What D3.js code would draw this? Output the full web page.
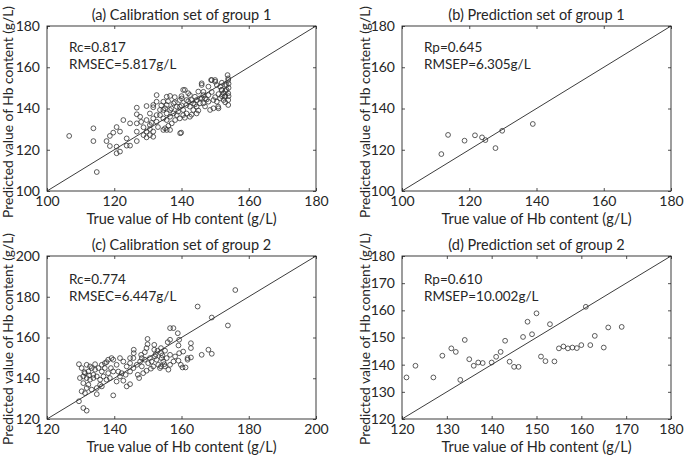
<!DOCTYPE html>
<html><head><meta charset="utf-8">
<script src="https://cdn.jsdelivr.net/npm/d3@7"></script>
<style>
body{margin:0;background:#fff}
text{font-family:Lato,"Open Sans",sans-serif;fill:#262626}
</style>
</head><body>
<svg id="chart" width="685" height="460"></svg>
<script>
// ---------- data ----------
const aTrue=[106.6,113.8,113.8,114.8,117.7,118.7,119.7,120.7,121.7,118.7,120.7,120.7,121.7,122.7,123.7,123.7,124.7,124.7,126.7,126.7,126.7,126.7,126.7,127.7,128.7,128.7,129.6,129.6,129.6,130.6,130.6,130.6,131.6,131.6,131.6,131.6,131.6,132.6,132.6,132.6,132.6,133.6,134.6,134.6,134.6,134.6,135.6,135.6,135.6,135.6,135.6,136.6,136.6,136.6,136.6,137.6,137.6,138.6,138.6,139.5,139.5,139.5,139.9,140.5,140.5,140.5,141.5,141.5,141.5,142.5,142.5,142.5,143.5,143.5,144.5,144.5,144.5,145.0,145.5,146.0,146.5,146.5,147.5,148.0,148.5,148.8,149.5,150.0,150.5,150.5,151.0,151.5,151.5,152.0,152.5,152.5,153.0,153.0,153.4,153.7,153.9,153.9,153.9,153.9,133.6,135.1,135.1,136.1,137.1,138.1,139.6,141.0,140.1,142.0,143.0,144.0,146.0,146.5,145.5,147.0,148.0,149.0,150.0,149.5,150.9,151.9,152.9,153.4,153.9,129.6,130.6,131.1,137.0,138.0,139.0,140.0,141.0,142.0,143.0,144.0,145.0,146.0,147.0,148.0,149.0,150.0,151.0,152.0,153.0,154.0,154.0,154.0,153.0,152.0,140.0,138.0,136.0,134.0,133.0,128.0];
const aPred=[126.7,130.4,124.2,109.2,124.2,126.7,128.3,131.0,128.8,121.8,121.5,118.3,119.1,134.4,125.5,122.0,122.0,132.8,140.4,137.2,132.8,128.8,124.2,136.0,130.9,127.1,141.2,134.4,128.8,137.6,132.0,127.1,141.7,140.6,135.2,128.8,126.3,146.5,143.3,136.8,133.6,139.3,143.3,139.3,135.2,129.6,145.7,141.7,137.6,134.4,129.6,146.1,139.3,136.0,129.6,142.5,137.6,140.9,136.8,144.1,140.9,135.2,128.3,139.3,136.8,149.0,144.1,141.7,137.6,140.9,136.0,146.5,142.5,139.3,144.1,140.9,137.6,148.2,144.9,152.2,142.5,146.5,144.4,150.6,139.3,153.8,144.1,153.8,151.4,143.3,140.1,144.9,150.6,149.0,147.4,144.1,151.4,146.1,149.0,156.2,153.8,147.4,144.1,141.7,136.8,140.1,130.4,131.6,132.8,134.4,128.0,149.0,144.9,147.4,144.1,145.7,151.4,148.1,142.5,144.9,143.3,153.8,153.0,140.1,140.9,149.0,145.7,151.4,154.6,126.0,130.0,133.0,140.0,143.0,138.5,141.5,135.5,143.5,137.0,142.0,139.0,145.0,141.0,146.5,148.0,145.5,147.0,152.5,143.0,150.0,152.0,146.0,148.5,146.0,146.0,145.5,143.5,141.5,131.0,133.5];

const bTrue=[111.7,113.7,118.6,121.7,123.8,124.8,127.8,129.8,138.9];
const bPred=[117.9,127.2,124.4,127.0,126.0,124.7,120.8,129.2,132.5];

const cTrue=[176.0,164.8,169.0,173.8,156.6,157.6,158.9,156.6,155.9,149.9,149.9,151.9,159.3,162.8,162.8,159.1,145.8,145.8,149.1,148.0,151.9,153.9,153.9,155.1,156.6,158.1,159.3,160.5,159.1,160.3,161.2,161.8,161.8,162.8,166.0,168.0,169.0,137.7,139.7,140.7,141.7,142.7,143.7,144.7,144.7,145.7,146.7,147.7,148.2,148.6,149.1,150.1,150.6,151.1,151.6,152.1,152.6,153.1,153.6,154.1,154.6,155.1,155.6,156.6,150.9,149.6,147.0,147.4,143.4,142.2,141.2,139.7,139.0,138.2,137.2,136.3,135.3,134.3,133.3,132.3,131.3,130.3,129.5,129.8,130.8,131.8,132.8,133.8,134.8,135.8,136.8,137.7,138.7,140.7,142.7,143.7,144.7,135.8,134.8,133.3,131.8,130.3,131.3,134.8,136.3,129.5,130.8,131.8,139.7,130.8,132.3,131.8,132.8,134.3,136.3,137.2,138.2,139.2,148.2,149.6,152.9,152.3,154.3,154.9,153.9,156.1,157.6,159.8,144.7,141.7,145.7,133.8,132.5,131.1];
const cPred=[183.3,175.2,169.8,165.9,164.6,164.6,162.1,158.9,157.7,159.3,156.7,156.4,158.9,157.2,154.8,156.1,154.0,152.3,152.8,151.5,154.0,154.8,152.3,153.5,151.5,150.7,152.3,153.1,148.6,145.3,145.3,149.9,149.1,150.2,151.5,154.0,152.0,147.9,149.1,146.6,149.9,148.2,145.8,149.9,147.4,145.0,146.6,148.2,145.8,142.5,149.1,147.4,149.9,148.2,145.8,150.7,149.1,146.6,145.0,149.9,148.2,145.8,149.9,146.6,144.7,143.7,141.7,140.1,141.7,142.5,143.3,143.3,145.0,142.5,145.0,143.3,145.0,144.2,145.0,143.3,142.5,145.0,146.9,140.1,140.9,140.1,139.3,140.1,140.9,139.3,140.9,139.3,140.1,138.4,138.8,136.0,137.1,136.8,135.2,134.4,135.2,133.6,132.7,132.2,136.0,128.7,125.4,124.1,131.6,137.6,136.8,146.6,145.8,146.9,146.6,147.4,149.1,149.9,149.9,154.8,153.5,151.8,151.2,146.9,145.8,144.2,148.2,146.6,143.3,140.9,149.9,141.7,141.4,143.0];

const dTrue=[121,123,127,129,131,132,133,134,135,136,137,138,140,141,142,143,144,145,146,147,148,149,150,151,152,153,154,155,156,157,158,159,160,161,162,163,165,166,169];
const dPred=[135.3,139.6,135.3,143.3,146.0,144.7,134.4,149.1,142.0,139.6,140.8,140.6,140.8,142.9,144.7,148.8,141.1,139.2,139.2,150.2,155.8,151.2,158.9,143.0,141.3,154.9,141.2,146.0,146.7,146.0,146.3,146.1,147.2,161.3,147.2,150.6,146.3,153.7,153.9];

const ticks1=[100,120,140,160,180];
const ticks2=[120,140,160,180,200];
const ticks3=[120,130,140,150,160,170,180];

const titles=["(a) Calibration set of group 1","(b) Prediction set of group 1","(c) Calibration set of group 2","(d) Prediction set of group 2"];
const statR=["Rc=0.817","Rp=0.645","Rc=0.774","Rp=0.610"];
const statE=["RMSEC=5.817g/L","RMSEP=6.305g/L","RMSEC=6.447g/L","RMSEP=10.002g/L"];
const xLabel="True value of Hb content (g/L)";
const yLabel="Predicted value of Hb content (g/L)";

// ---------- layout ----------
const panels=[
  {xs:aTrue, ys:aPred, dom:[100,180], ticks:ticks1, box:{x:47,y:26,w:269,h:165}, sy:[52,69], ylx:13, yly:112},
  {xs:bTrue, ys:bPred, dom:[100,180], ticks:ticks1, box:{x:402,y:26,w:269,h:165}, sy:[52,69], ylx:370, yly:112},
  {xs:cTrue, ys:cPred, dom:[120,200], ticks:ticks2, box:{x:47,y:256,w:269,h:163}, sy:[284,301], ylx:13, yly:339},
  {xs:dTrue, ys:dPred, dom:[120,180], ticks:ticks3, box:{x:402,y:256,w:269,h:163}, sy:[284,301], ylx:370, yly:339}
];

const svg=d3.select("#chart");
const ink="#262626";

panels.forEach((p,i)=>{
  const b=p.box;
  const x=d3.scaleLinear().domain(p.dom).range([b.x,b.x+b.w]);
  const y=d3.scaleLinear().domain(p.dom).range([b.y+b.h,b.y]);
  const g=svg.append("g");

  // axes with inward ticks
  const ax=[
    g.append("g").attr("transform",`translate(0,${b.y+b.h})`).call(d3.axisBottom(x).tickValues(p.ticks).tickSize(-3).tickSizeOuter(0).tickPadding(5)),
    g.append("g").attr("transform",`translate(${b.x},0)`).call(d3.axisLeft(y).tickValues(p.ticks).tickSize(-3).tickSizeOuter(0).tickPadding(7)),
    g.append("g").attr("transform",`translate(0,${b.y})`).call(d3.axisTop(x).tickValues(p.ticks).tickSize(-3).tickSizeOuter(0).tickFormat("")),
    g.append("g").attr("transform",`translate(${b.x+b.w},0)`).call(d3.axisRight(y).tickValues(p.ticks).tickSize(-3).tickSizeOuter(0).tickFormat(""))
  ];
  ax.forEach(a=>{
    a.select(".domain").remove();
    a.selectAll("line").attr("stroke",ink).attr("stroke-width",0.8);
    a.selectAll("text").style("font-size","14px").attr("fill",ink);
  });
  g.append("rect").attr("x",b.x).attr("y",b.y).attr("width",b.w).attr("height",b.h)
    .attr("fill","none").attr("stroke",ink).attr("stroke-width",0.9);

  // 1:1 line
  g.append("line").attr("x1",x(p.dom[0])).attr("y1",y(p.dom[0])).attr("x2",x(p.dom[1])).attr("y2",y(p.dom[1]))
    .attr("stroke",ink).attr("stroke-width",0.9);

  // points
  const pts=p.xs.map((v,k)=>[v,p.ys[k]]);
  g.append("g").selectAll("circle").data(pts).join("circle")
    .attr("cx",d=>x(d[0])).attr("cy",d=>y(d[1])).attr("r",2.4)
    .attr("fill","none").attr("stroke","#333").attr("stroke-width",0.8);

  // texts
  g.append("text").attr("x",b.x+b.w/2).attr("y",b.y-6).attr("text-anchor","middle")
    .style("font-size","14.5px").text(titles[i]);
  g.append("text").attr("x",b.x+22).attr("y",p.sy[0]).style("font-size","13.5px").text(statR[i]);
  g.append("text").attr("x",b.x+22).attr("y",p.sy[1]).style("font-size","13.5px").text(statE[i]);
  g.append("text").attr("x",b.x+b.w/2).attr("y",b.y+b.h+33).attr("text-anchor","middle")
    .style("font-size","14.5px").text(xLabel);
  g.append("text").attr("transform",`translate(${p.ylx},${p.yly}) rotate(-90)`).attr("text-anchor","middle")
    .style("font-size","13.8px").text(yLabel);
});
</script>
</body></html>
